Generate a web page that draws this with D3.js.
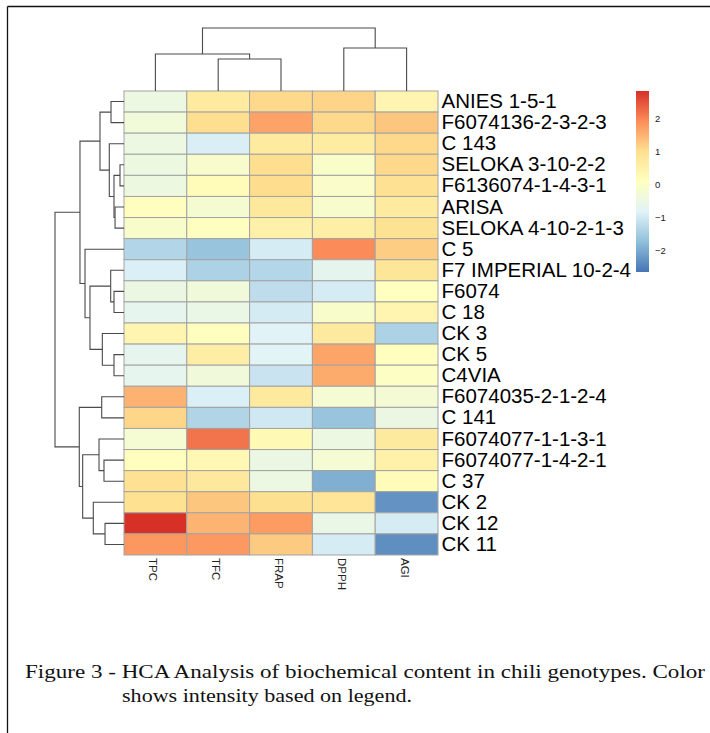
<!DOCTYPE html>
<html>
<head>
<meta charset="utf-8">
<script src="https://cdn.jsdelivr.net/npm/d3@7"></script>
<style>
  html, body { margin: 0; padding: 0; background: #ffffff; }
  svg { display: block; }
</style>
</head>
<body>
<svg id="chart" width="710" height="733"></svg>
<script>
// ---------------- DATA ----------------
const columns = ["TPC", "TFC", "FRAP", "DPPH", "AGI"];
const genotypes = [
  "ANIES 1-5-1", "F6074136-2-3-2-3", "C 143", "SELOKA 3-10-2-2", "F6136074-1-4-3-1",
  "ARISA", "SELOKA 4-10-2-1-3", "C 5", "F7 IMPERIAL 10-2-4", "F6074", "C 18", "CK 3",
  "CK 5", "C4VIA", "F6074035-2-1-2-4", "C 141", "F6074077-1-1-3-1", "F6074077-1-4-2-1",
  "C 37", "CK 2", "CK 12", "CK 11"
];
// scaled values per column (row order = genotypes)
const tpc  = [-0.48,-0.33,-0.48,-0.46,-0.46, 0.10,-0.12,-1.36,-0.90,-0.50,-0.65, 0.38,-0.65,-0.65, 1.50, 1.10,-0.22, 0.10, 0.95, 0.97, 2.82, 1.80];
const tfc  = [ 0.68, 1.00,-0.92,-0.13, 0.20,-0.21, 0.07,-1.66,-1.42,-0.35,-0.55, 0.10, 0.58,-0.36,-0.90,-1.38, 2.15, 0.30, 0.75, 1.28, 1.48, 1.78];
const frap = [ 1.07, 1.67, 0.68, 1.00, 1.02, 0.76, 0.49,-0.95,-1.35,-1.23,-0.97,-0.80,-0.78,-1.10, 0.70,-1.02, 0.25,-0.50,-0.48, 0.98, 1.75, 1.23];
const dpph = [ 1.12, 1.07, 0.63,-0.10,-0.08,-0.14, 0.55, 1.93,-0.68,-0.96,-0.12, 0.70, 1.65, 1.58,-0.22,-1.66,-0.48,-0.22,-1.95, 0.85,-0.55,-0.95];
const agi  = [ 0.37, 1.28, 1.07, 1.07, 0.95, 0.68, 0.94, 1.20, 0.82, 0.08, 0.38,-1.42, 0.10, 0.00,-0.25,-0.50, 0.70, 0.50, 0.20,-2.30,-0.96,-2.35];

const legendRange = [-2.66, 2.82];
const legendTicks = [-2, -1, 0, 1, 2];
const palette = ["#4575B4", "#91BFDB", "#E0F3F8", "#FFFFBF", "#FEE090", "#FC8D59", "#D73027"];

// dendrograms: [height, left, right]; leaves are row/column indices
const rowTree = [10,
  [6.38,
    [3.48, [1.88, 0, 1], [2.13, 2, [1.45, [0.58, 3, 4], [1.30, 5, 6]]]],
    [5.65, 7, [4.93, [1.93, 8, [1.45, 9, 10]], [3.14, 11, [1.45, 12, 13]]]]
  ],
  [6.48,
    [3.23, 14, 15],
    [5.99, [3.62, 16, [2.90, 17, 18]], [4.45, 19, [2.75, 20, 21]]]
  ]
];
const colTree = [10, [5.87, 0, [5.08, 1, 2]], [6.83, 3, 4]];

const caption1 = "Figure 3 - HCA Analysis of biochemical content in chili genotypes. Color";
const caption2 = "shows intensity based on legend.";

// ---------------- DRAW ----------------
const series = [tpc, tfc, frap, dpph, agi];
const svg = d3.select("#chart");

// frame
svg.append("line").attr("x1", 7.5).attr("x2", 710).attr("y1", 6.5).attr("y2", 6.5)
  .attr("stroke", "#111").attr("stroke-width", 1.3);
svg.append("line").attr("x1", 7.5).attr("x2", 7.5).attr("y1", 6.5).attr("y2", 733)
  .attr("stroke", "#111").attr("stroke-width", 1.3);

const hm = { left: 124, right: 438, top: 91, bottom: 555 };
const x = d3.scaleBand().domain(columns).range([hm.left, hm.right]).padding(0);
const y = d3.scaleBand().domain(genotypes).range([hm.top, hm.bottom]).padding(0);

const stops = d3.range(palette.length).map(i => legendRange[0] + i * (legendRange[1] - legendRange[0]) / (palette.length - 1));
const color = d3.scaleLinear().domain(stops).range(palette).interpolate(d3.interpolateRgb).clamp(true);

// cells
const cells = [];
genotypes.forEach((g, r) => columns.forEach((c, k) => cells.push({ g, c, v: series[k][r] })));
svg.append("g").selectAll("rect").data(cells).join("rect")
  .attr("x", d => x(d.c))
  .attr("y", d => y(d.g))
  .attr("width", x.bandwidth())
  .attr("height", y.bandwidth())
  .attr("fill", d => color(d.v))
  .attr("stroke", "#a3a3a3")
  .attr("stroke-width", 1);

// row labels
const rowAxis = svg.append("g").attr("transform", `translate(${hm.right},0)`)
  .call(d3.axisRight(y).tickSize(0).tickPadding(3.5));
rowAxis.select(".domain").remove();
rowAxis.selectAll("text")
  .attr("font-family", "'Liberation Sans', Arial, sans-serif")
  .attr("font-size", 20.5)
  .attr("fill", "#000");

// column labels (rotated)
svg.append("g").selectAll("text").data(columns).join("text")
  .attr("transform", d => `translate(${x(d) + x.bandwidth() / 2 - 2},${hm.bottom + 3}) rotate(90)`)
  .attr("dominant-baseline", "central")
  .attr("text-anchor", "start")
  .attr("font-family", "'Liberation Sans', Arial, sans-serif")
  .attr("font-size", 11.5)
  .attr("fill", "#222")
  .text(d => d);

// dendrogram helpers
function layout(node, leafPos) {
  if (typeof node === "number") return { h: 0, p: leafPos(node) };
  const a = layout(node[1], leafPos), b = layout(node[2], leafPos);
  return { h: node[0], p: (a.p + b.p) / 2, kids: [a, b] };
}
const dendroStroke = "#4a4a4a";

// row dendrogram
const hx = d3.scaleLinear().domain([0, 10]).range([hm.left, 55]);
const rowRoot = layout(rowTree, i => y(genotypes[i]) + y.bandwidth() / 2);
const rowG = svg.append("g").attr("fill", "none").attr("stroke", dendroStroke).attr("stroke-width", 1.1);
(function drawRow(n) {
  if (!n.kids) return;
  const [a, b] = n.kids;
  rowG.append("path").attr("d",
    `M${hx(a.h)},${a.p}H${hx(n.h)}V${b.p}H${hx(b.h)}`);
  drawRow(a); drawRow(b);
})(rowRoot);

// column dendrogram
const hy = d3.scaleLinear().domain([0, 10]).range([hm.top, 28]);
const colRoot = layout(colTree, i => x(columns[i]) + x.bandwidth() / 2);
const colG = svg.append("g").attr("fill", "none").attr("stroke", dendroStroke).attr("stroke-width", 1.1);
(function drawCol(n) {
  if (!n.kids) return;
  const [a, b] = n.kids;
  colG.append("path").attr("d",
    `M${a.p},${hy(a.h)}V${hy(n.h)}H${b.p}V${hy(b.h)}`);
  drawCol(a); drawCol(b);
})(colRoot);

// legend
const leg = { x: 636, w: 13, top: 91, bottom: 272 };
const ly = d3.scaleLinear().domain(legendRange).range([leg.bottom, leg.top]);
const grad = svg.append("defs").append("linearGradient")
  .attr("id", "lg").attr("x1", 0).attr("x2", 0).attr("y1", 1).attr("y2", 0);
grad.selectAll("stop").data(stops).join("stop")
  .attr("offset", (d, i) => i / (stops.length - 1))
  .attr("stop-color", (d, i) => palette[i]);
svg.append("rect").attr("x", leg.x).attr("y", leg.top)
  .attr("width", leg.w).attr("height", leg.bottom - leg.top)
  .attr("fill", "url(#lg)");
const legAxis = svg.append("g").attr("transform", `translate(${leg.x + leg.w},0)`)
  .call(d3.axisRight(ly).tickValues(legendTicks).tickSize(0).tickPadding(6).tickFormat(d3.format("d")));
legAxis.select(".domain").remove();
legAxis.selectAll("text")
  .attr("font-family", "'Liberation Sans', Arial, sans-serif")
  .attr("font-size", 9.5)
  .attr("fill", "#222");

// caption
svg.append("text").attr("x", 25).attr("y", 678)
  .attr("font-family", "'Liberation Serif', 'Times New Roman', serif")
  .attr("font-size", 19).attr("fill", "#111")
  .attr("textLength", 680).attr("lengthAdjust", "spacingAndGlyphs")
  .text(caption1);
svg.append("text").attr("x", 122).attr("y", 702)
  .attr("font-family", "'Liberation Serif', 'Times New Roman', serif")
  .attr("font-size", 19).attr("fill", "#111")
  .attr("textLength", 290).attr("lengthAdjust", "spacingAndGlyphs")
  .text(caption2);
</script>
</body>
</html>
